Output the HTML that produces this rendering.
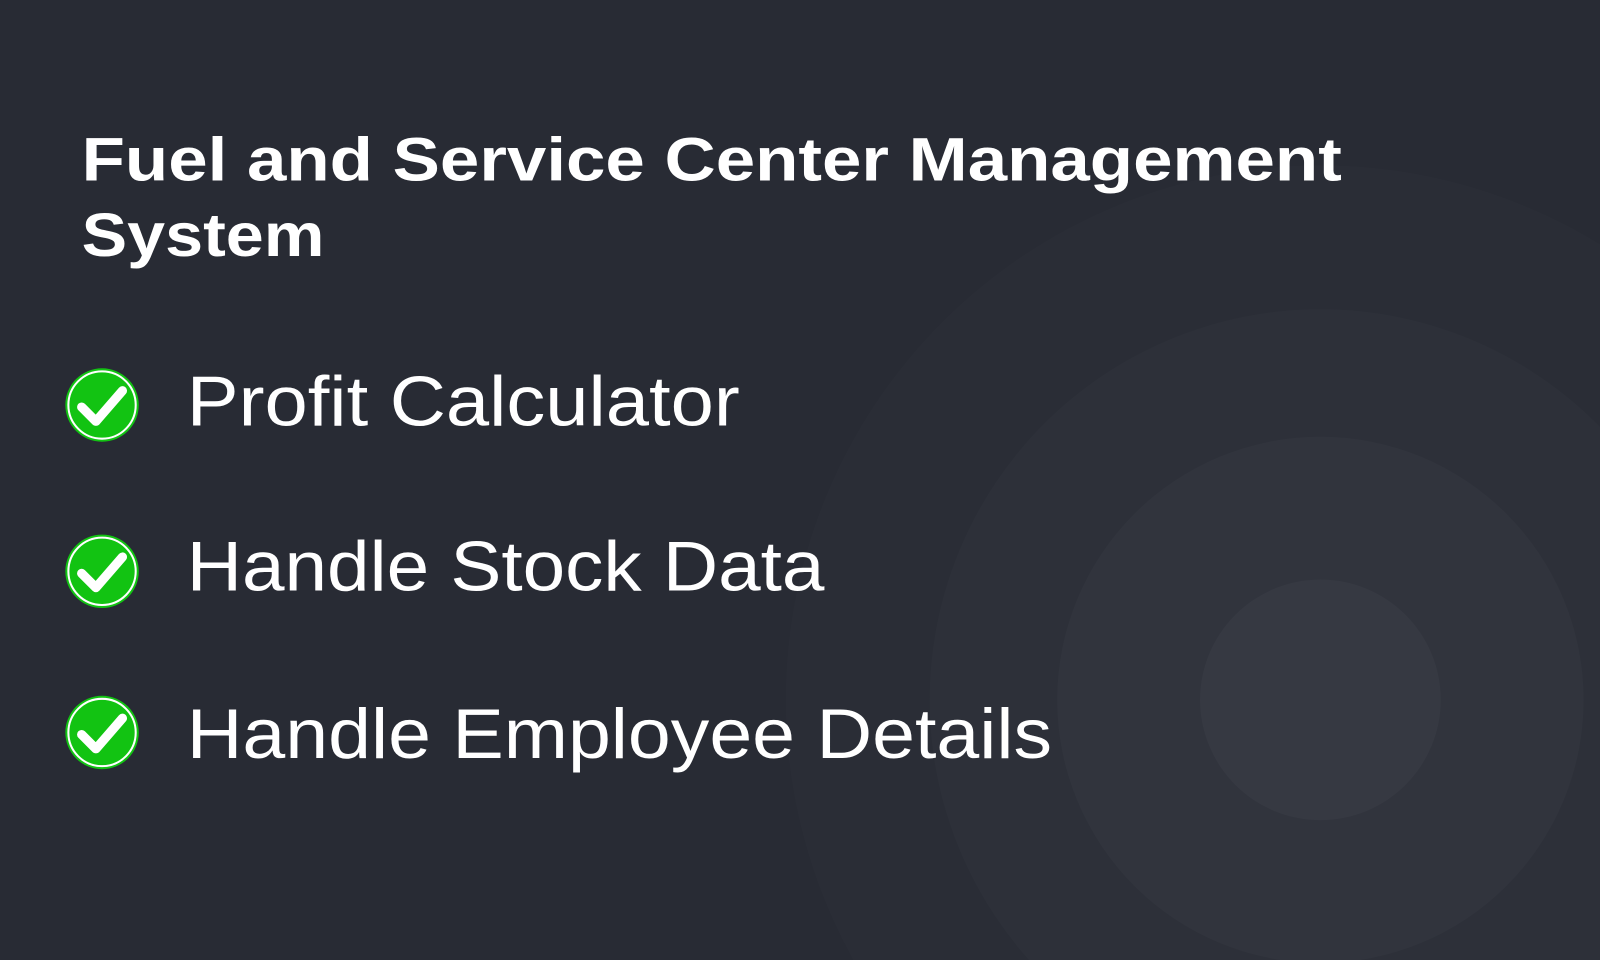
<!DOCTYPE html>
<html><head><meta charset="utf-8"><style>
html,body{margin:0;padding:0;background:#282b34;width:1600px;height:960px;overflow:hidden;}
svg{display:block;}
</style></head><body>
<svg width="1600" height="960" viewBox="0 0 1568 941" preserveAspectRatio="none" xmlns="http://www.w3.org/2000/svg">
<rect width="1568" height="941" fill="#282b34"/>
<circle cx="1294" cy="686" r="524" fill="#2a2d36"/>
<circle cx="1294" cy="686" r="383" fill="#2d3039"/>
<circle cx="1294" cy="686" r="258" fill="#31343d"/>
<circle cx="1294" cy="686" r="118" fill="#363942"/>
<g font-family="Liberation Sans, sans-serif" fill="#ffffff">
<text x="80" y="177" font-size="60" font-weight="bold" textLength="1235" lengthAdjust="spacingAndGlyphs">Fuel and Service Center Management</text>
<text x="80" y="251" font-size="60" font-weight="bold" textLength="238" lengthAdjust="spacingAndGlyphs">System</text>
<text x="183" y="417" font-size="69" textLength="542" lengthAdjust="spacingAndGlyphs">Profit Calculator</text>
<text x="183" y="579" font-size="69" textLength="625" lengthAdjust="spacingAndGlyphs">Handle Stock Data</text>
<text x="183" y="743" font-size="69" textLength="848" lengthAdjust="spacingAndGlyphs">Handle Employee Details</text>
</g>
<defs>
<g id="chk">
<circle r="36" fill="#12c312"/>
<circle r="33" fill="none" stroke="#ffffff" stroke-width="2"/>
<path d="M-20 2 L-6 16 L20 -14" fill="none" stroke="#ffffff" stroke-width="9" stroke-linecap="round" stroke-linejoin="round"/>
</g>
</defs>
<use href="#chk" x="100" y="397"/>
<use href="#chk" x="100" y="560"/>
<use href="#chk" x="100" y="718"/>
</svg>
</body></html>
